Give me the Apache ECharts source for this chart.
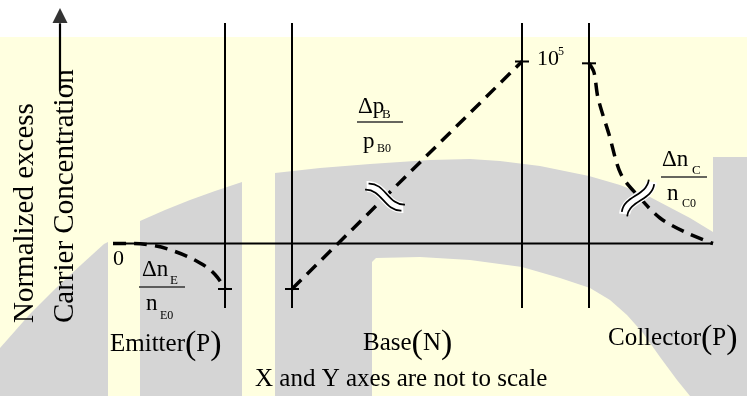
<!DOCTYPE html>
<html>
<head>
<meta charset="utf-8">
<script src="https://cdn.jsdelivr.net/npm/echarts@6/dist/echarts.min.js"></script>
<style>
  html, body { margin: 0; padding: 0; background: #fff; }
  #chart { width: 747px; height: 396px; }
</style>
</head>
<body>
<div id="chart"></div>
<script>
// x: distance along the device (emitter edge of axis = 0), y: normalized excess (10^5 ~ 100)
const junctionX = [112, 179, 409, 476];
const junctionSpan = [-35.4, 121.2];
const axisX = [0, 600];
const emitterX = [0, 12, 37, 62, 87, 102, 112];
const emitterY = [0, 0, -0.8, -4.4, -10.7, -17, -25];
const baseX = [179, 409];
const baseY = [-25, 100];
const collectorX = [476, 481, 485, 496, 508, 527, 547, 572, 600];
const collectorY = [99, 94, 80, 60, 38, 25, 14, 6.3, 0];
const tickPoints = [[112, -25], [179, -25], [409, 100], [476, 99]];
const breakMarks = [[272, 25.5, -30], [525, 25, 50]];
const yArrow = [-53, 84, 121, 125.3];

const SERIF = '"Liberation Serif", "Times New Roman", serif';
const YELLOW = '#ffffe0';
const GRAY = '#d5d5d5';

const zip = (xs, ys) => xs.map((x, i) => [x, ys[i]]);

const dashed = { color: '#000', width: 3.5, type: [13, 8] };
const solid = (w) => ({ color: '#000', width: w, type: 'solid' });

function lineSeries(data, lineStyle, extra) {
    return Object.assign({
        type: 'line', data: data, symbol: 'none', lineStyle: lineStyle,
        silent: true, z: 3, clip: false
    }, extra || {});
}

let series = [];
// horizontal axis
series.push(lineSeries([[axisX[0], 0], [axisX[1], 0]], solid(1.8)));
// junction lines
junctionX.forEach((x) => {
    series.push(lineSeries([[x, junctionSpan[0]], [x, junctionSpan[1]]], solid(2)));
});
// tick marks
tickPoints.forEach((p) => {
    series.push(lineSeries([[p[0] - 7, p[1]], [p[0] + 7, p[1]]], solid(2)));
});
// y arrow
series.push(lineSeries([[yArrow[0], yArrow[1]], [yArrow[0], yArrow[2]]], solid(2.2)));
series.push({
    type: 'scatter', data: [[yArrow[0], yArrow[3]]], symbol: 'triangle',
    symbolSize: [15, 15], itemStyle: { color: '#000' }, silent: true, z: 3
});
// carrier profiles
series.push(lineSeries(zip(emitterX, emitterY), dashed, { smooth: 0.4, z: 4 }));
series.push(lineSeries(zip(baseX, baseY), dashed, { z: 4 }));
series.push(lineSeries(zip(collectorX, collectorY), dashed, { smooth: 0.3, z: 4 }));
// break marks
series.push({
    type: 'custom', data: breakMarks, z: 6, silent: true,
    renderItem: (params, api) => {
        const c = api.coord([api.value(0), api.value(1)]);
        const rot = api.value(2) * Math.PI / 180;
        const L = 42, h = 4.5, g = 3.5;
        const wave = (dy, stroke, lw) => ({
            type: 'bezierCurve',
            shape: { x1: -L / 2, y1: dy, cpx1: -L / 6, cpy1: dy - 2 * h, cpx2: L / 6, cpy2: dy + 2 * h, x2: L / 2, y2: dy },
            style: { stroke: stroke, lineWidth: lw, fill: 'none' }
        });
        return {
            type: 'group', x: c[0], y: c[1], rotation: rot,
            children: [wave(0, '#fff', 11), wave(-g, '#000', 1.7), wave(g, '#000', 1.7)]
        };
    }
});

function txt(x, y, text, size, extra) {
    return Object.assign({
        type: 'text', x: x, y: y, z: 50, silent: true,
        style: { text: text, fontFamily: SERIF, fontSize: size, fill: '#000', align: 'left', verticalAlign: 'middle' }
    }, extra || {});
}
function bar(x1, x2, y) {
    return { type: 'line', z: 50, silent: true, shape: { x1: x1, y1: y, x2: x2, y2: y }, style: { stroke: '#333', lineWidth: 1.3 } };
}
function paren(x, y, word, letter) {
    return {
        type: 'text', x: x, y: y, z: 50, silent: true,
        style: {
            text: '{t|' + word + '}{p|(}{t|' + letter + '}{p|)}',
            align: 'left', verticalAlign: 'middle', fill: '#000',
            rich: {
                t: { fontFamily: SERIF, fontSize: 25, fill: '#000' },
                p: { fontFamily: SERIF, fontSize: 34, fill: '#000' }
            }
        }
    };
}

const watermark = [
    { type: 'rect', z: -10, shape: { x: 0, y: 37, width: 747, height: 359 }, style: { fill: YELLOW } },
    { type: 'polygon', z: -9, shape: { points: [[0, 348], [30, 314], [55, 289], [82, 264], [104, 244], [108, 242], [108, 396], [0, 396]] }, style: { fill: GRAY } },
    { type: 'polygon', z: -9, shape: { points: [[140, 221], [165, 210], [190, 200], [215, 191], [242, 182], [242, 396], [140, 396]] }, style: { fill: GRAY } },
    { type: 'polygon', z: -9, shape: { points: [[275, 396], [275, 173], [320, 168], [370, 164], [430, 160], [470, 159], [500, 161], [540, 166], [589, 176], [620, 185], [650, 197], [690, 218], [713, 232], [713, 157], [747, 157], [747, 396]] }, style: { fill: GRAY } },
    { type: 'polygon', z: -8, shape: { points: [[372, 396], [372, 262], [376, 258], [420, 257], [470, 260], [522, 267], [560, 278], [590, 288], [610, 300], [627, 315], [643, 333], [660, 357], [677, 380], [690, 396]] }, style: { fill: YELLOW } }
];

const labels = [
    txt(25.2, 323, 'Normalized excess', 29, { rotation: Math.PI / 2 }),
    txt(65.2, 323, 'Carrier Concentration', 29, { rotation: Math.PI / 2 }),
    txt(113, 259.6, '0', 22),
    txt(537, 59.6, '10', 22),
    txt(558, 52, '5', 12),
    // emitter fraction
    txt(142, 270.4, '\u0394n', 23), txt(170, 281, 'E', 13), bar(139, 185, 287),
    txt(146, 304.4, 'n', 23), txt(160, 316, 'E0', 12),
    // base fraction
    txt(358, 107.4, '\u0394p', 23), txt(382, 114.5, 'B', 13), bar(357, 403, 122),
    txt(363, 142.4, 'p', 23), txt(377, 149, 'B0', 12),
    // collector fraction
    txt(662, 160.4, '\u0394n', 23), txt(692, 170.6, 'C', 13), bar(661, 707, 177),
    txt(667, 194.4, 'n', 23), txt(682, 204, 'C0', 12),
    paren(110, 344.6, 'Emitter', 'P'),
    paren(363, 343.6, 'Base', 'N'),
    paren(608, 338.6, 'Collector', 'P'),
    txt(255, 379.6, 'X and Y axes are not to scale', 25)
];

const chart = echarts.init(document.getElementById('chart'));
chart.setOption({
    animation: false,
    backgroundColor: '#fff',
    grid: { left: 0, right: 0, top: 6.9, bottom: 70.6 },
    xAxis: { type: 'value', min: -113, max: 634, show: false },
    yAxis: { type: 'value', min: -45, max: 130, show: false },
    graphic: watermark.concat(labels),
    series: series
});
</script>
</body>
</html>
